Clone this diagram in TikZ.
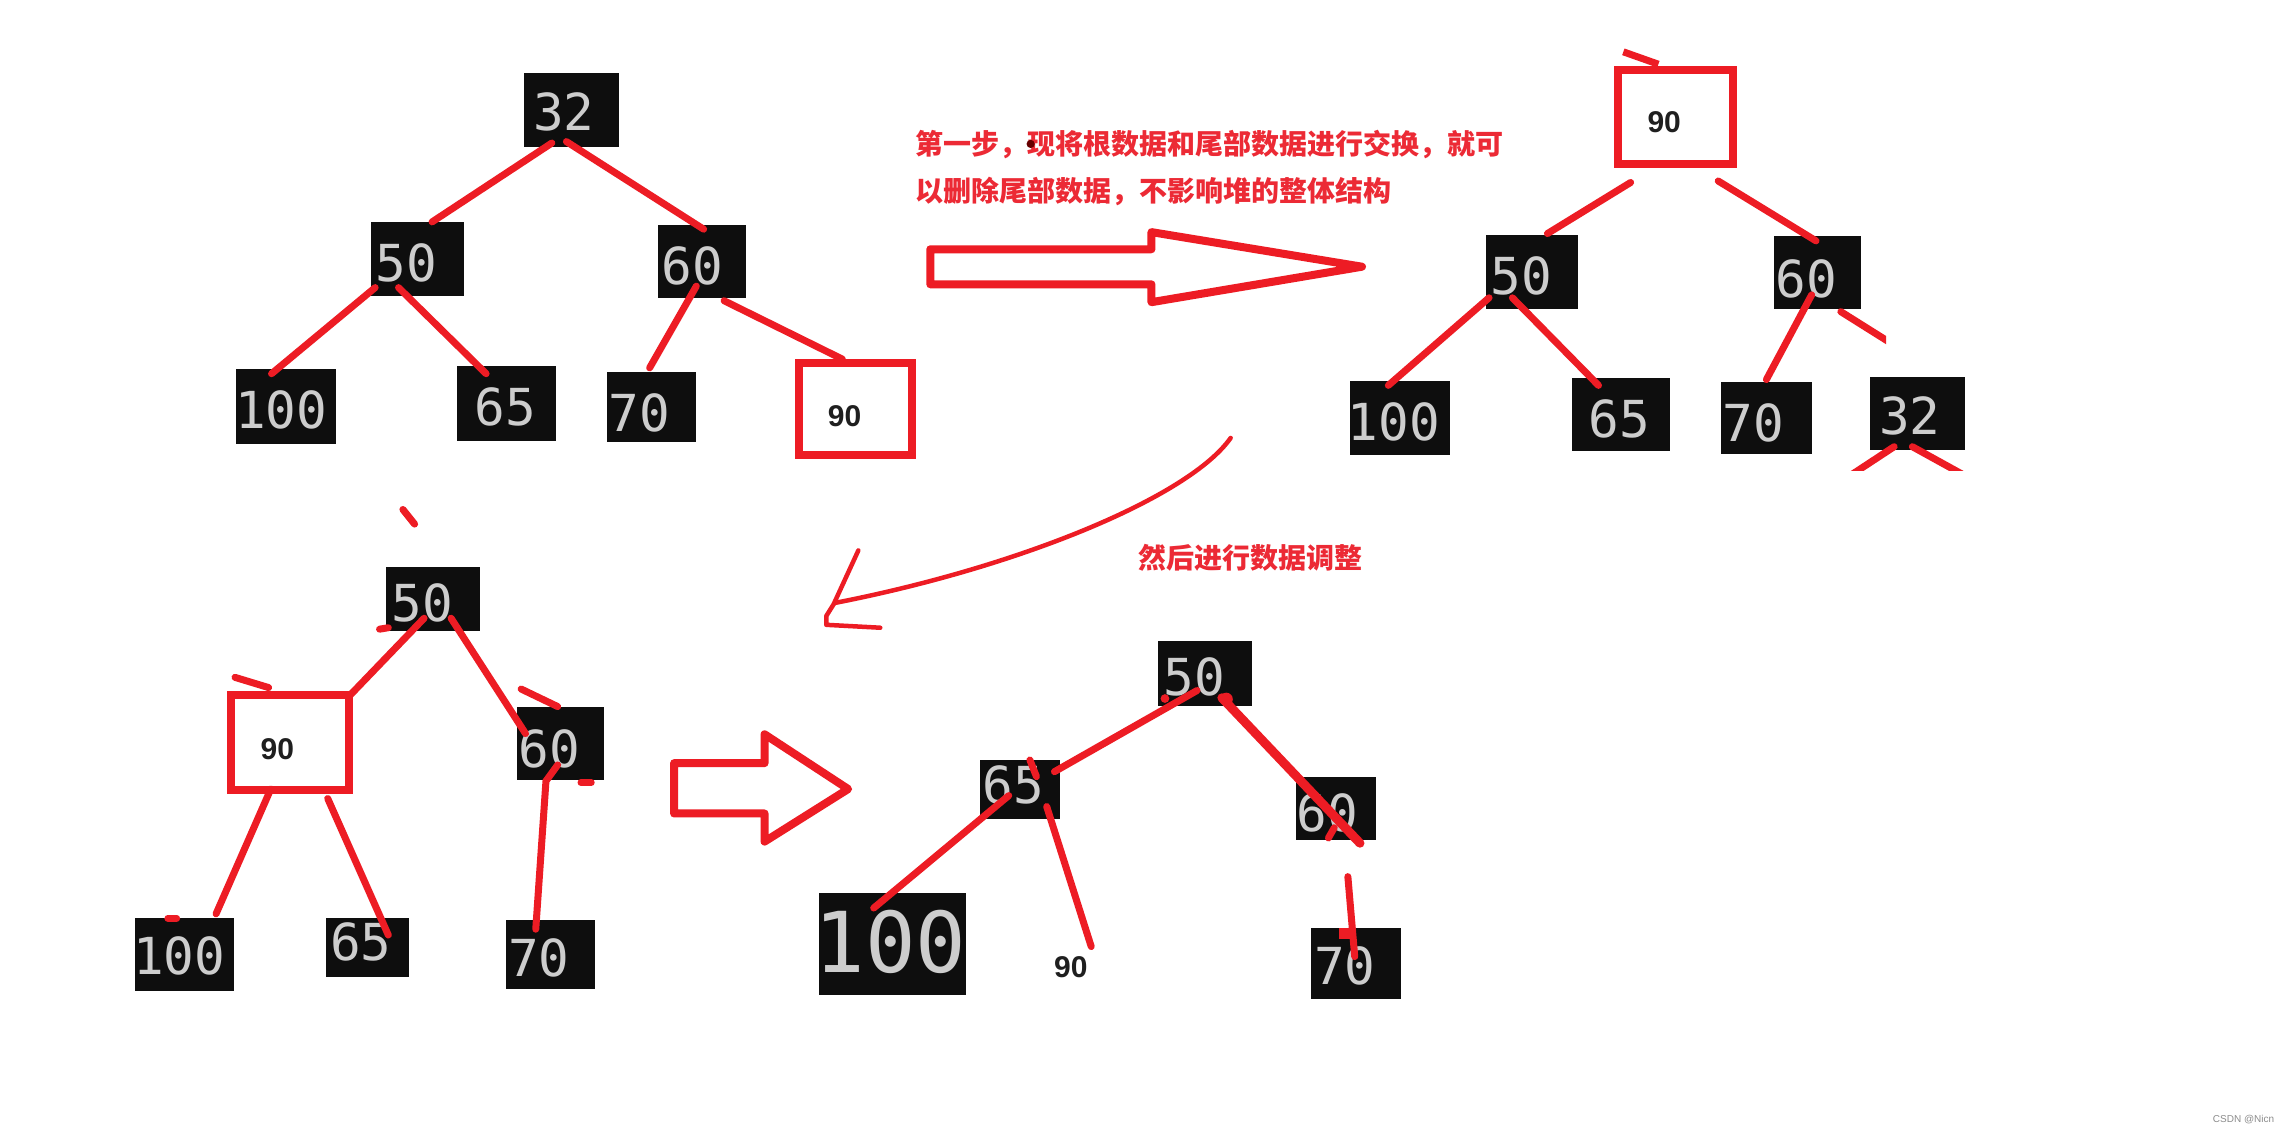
\documentclass[tikz,border=0pt]{standalone}
\usepackage{fontspec}
\newfontfamily\monof{DejaVu Sans Mono}
\newfontfamily\cjkf{Noto Sans CJK SC}
\newfontfamily\lblf{Liberation Sans}
\newfontfamily\wmf{Liberation Sans}
\definecolor{pred}{HTML}{ED1C24}
\definecolor{tred}{HTML}{EC2A35}
\definecolor{boxbk}{HTML}{0E0E0E}
\definecolor{dig}{HTML}{CDCDCD}
\tikzset{
  blk/.style={fill=boxbk, draw=none, inner sep=0pt},
  num/.style={font=\monof\fontsize{51}{51}\selectfont, text=dig, inner sep=0pt, anchor=west},
  bignum/.style={font=\monof\fontsize{84}{84}\selectfont, text=dig, inner sep=0pt, anchor=west},
  rbox/.style={draw=pred, line width=8pt, fill=white, inner sep=0pt},
  lab/.style={font=\lblf\bfseries\fontsize{30}{30}\selectfont, text=black!88, inner sep=0pt},
  edge/.style={draw=pred, line width=7pt, line cap=round},
  thickedge/.style={draw=pred, line width=9pt, line cap=round},
  stub/.style={draw=pred, line width=7pt, line cap=butt},
  thinline/.style={draw=pred, line width=4.5pt, line cap=round, line join=round},
  hollow/.style={draw=pred, line width=8pt, line join=round, fill=white},
  note/.style={font=\cjkf\bfseries\fontsize{28}{28}\selectfont, text=tred, inner sep=0pt, anchor=base west},
}
\newcommand\bbox[5]{\node[blk, minimum width={#4*1.4598pt}, minimum height={#5*1.4598pt}] (#1) at (#2,#3) {};}
\newcommand\rrbox[5]{\node[rbox, minimum width={#4*1.4598pt}, minimum height={#5*1.4598pt}] (#1) at (#2,#3) {};}
\begin{document}
\begin{tikzpicture}[x=1.4598pt,y=-1.4598pt]
\useasboundingbox[fill=white] (0,0) rectangle (1568,777);

% ---------------- tree 1 ----------------
\bbox{n1a}{391.5}{75.5}{65}{51}
\bbox{n1b}{286}{177.5}{64}{51}
\bbox{n1c}{481}{179}{60}{50}
\bbox{n1d}{196}{278.5}{68}{51}
\bbox{n1e}{347}{276.5}{68}{51}
\bbox{n1f}{446.5}{279}{61}{48}
\rrbox{n1g}{586}{280.5}{78}{63}
\node[num] (n1at) at (365,77) {32};
\node[num] (n1bt) at (257,180) {50};
\node[num] (n1ct) at (453,182) {60};
\node[num] (n1dt) at (161,281) {100};
\node[num] (n1et) at (325,279) {65};
\node[num] (n1ft) at (417,283) {70};
\node[lab] (n1gt) at (578.5,285) {90};
\draw[edge] ([shift={(-13.5,22.5)}]n1a.center) -- ([shift={(10,-25.5)}]n1b.center);
\draw[edge] ([shift={(-3.5,21.5)}]n1a.center) -- ([shift={(1,-22)}]n1c.center);
\draw[edge] ([shift={(-29,19.5)}]n1b.center) -- ([shift={(-10,-22.5)}]n1d.center);
\draw[edge] ([shift={(-13,19.5)}]n1b.center) -- ([shift={(-14,-20.5)}]n1e.center);
\draw[edge] ([shift={(-4,17)}]n1c.center) -- ([shift={(-1.5,-27)}]n1f.center);
\draw[edge] ([shift={(15,27)}]n1c.center) -- ([shift={(-9,-34.5)}]n1g.center);

% ---------------- note 1 and arrow 1 ----------------
\node[note] (t1) at (627,105.7) {第一步，现将根数据和尾部数据进行交换，就可};
\node[note] (t2) at (627,137.7) {以删除尾部数据，不影响堆的整体结构};
\fill[black!60!red] (706,98.6) circle (2.8);
\draw[hollow] (637.25,170.75) -- (788.75,170.75) -- (788.75,159) -- (933,182.7)
  -- (788.75,207) -- (788.75,194.75) -- (637.25,194.75) -- cycle;

% ---------------- tree 2 ----------------
\rrbox{n2a}{1147.5}{80}{79}{64}
\bbox{n2b}{1049.5}{186.5}{63}{51}
\bbox{n2c}{1245}{187}{60}{50}
\bbox{n2d}{959}{286.5}{68}{51}
\bbox{n2e}{1110.5}{284}{67}{50}
\bbox{n2f}{1210}{286.5}{62}{49}
\bbox{n2g}{1313.5}{283}{65}{50}
\node[lab] (n2at) at (1140,84) {90};
\node[num] (n2bt) at (1021,189) {50};
\node[num] (n2ct) at (1216,191) {60};
\node[num] (n2dt) at (923,289) {100};
\node[num] (n2et) at (1088,287) {65};
\node[num] (n2ft) at (1180,290) {70};
\node[num] (n2gt) at (1287,285) {32};
\draw[edge] ([shift={(-30.5,45)}]n2a.center) -- ([shift={(10.5,-26.5)}]n2b.center);
\draw[edge] ([shift={(29.5,44)}]n2a.center) -- ([shift={(-1,-22)}]n2c.center);
\draw[edge] ([shift={(-29.5,17.5)}]n2b.center) -- ([shift={(-8,-22.5)}]n2d.center);
\draw[edge] ([shift={(-13.5,17.5)}]n2b.center) -- ([shift={(-15.5,-20)}]n2e.center);
\draw[edge] ([shift={(-4,15)}]n2c.center) -- ([shift={(0,-26.5)}]n2f.center);
\coordinate (s2a) at (1112,35.5);
\draw[stub] ([shift={(-11.5,-36)}]n2a.center) -- (s2a);
\begin{scope}
  \clip (1240,200) rectangle (1292,240);
  \coordinate (s2b) at (1300,238);
  \draw[edge] ([shift={(16,26.5)}]n2c.center) -- (s2b);
\end{scope}
\begin{scope}
  \clip (1250,290) rectangle (1360,322);
  \coordinate (s2c) at (1261,330);
  \coordinate (s2d) at (1353.5,330);
  \draw[edge] ([shift={(-16,23)}]n2g.center) -- (s2c);
  \draw[edge] ([shift={(-3.5,23)}]n2g.center) -- (s2d);
\end{scope}

% ---------------- curved arrow and note 2 ----------------
\coordinate (ca0) at (843,300);
\coordinate (ca1) at (572,413);
\draw[thinline] (ca0) .. controls (815,340) and (700,388) .. (ca1);
\coordinate (ah0) at (588,377);
\coordinate (ah1) at (566,428);
\coordinate (ah2) at (603,430);
\draw[thinline] (ah0) -- (571,414) -- (566,422) -- (ah1) -- (ah2);
\node[note] (t3) at (780,389.3) {然后进行数据调整};

% ---------------- tree 3 ----------------
\bbox{n3a}{296.5}{410.5}{64}{44}
\rrbox{n3b}{198.5}{508.5}{81}{65}
\bbox{n3c}{384}{509}{60}{50}
\bbox{n3d}{126.5}{654}{68}{50}
\bbox{n3e}{251.5}{649}{57}{40}
\bbox{n3f}{377}{654}{61}{47}
\node[num] (n3at) at (268,413) {50};
\node[lab] (n3bt) at (190,513) {90};
\node[num] (n3ct) at (355,513) {60};
\node[num] (n3dt) at (91,655) {100};
\node[num] (n3et) at (226,645) {65};
\node[num] (n3ft) at (348,656) {70};
\draw[edge] ([shift={(-6,13)}]n3a.center) -- ([shift={(41.5,-32.5)}]n3b.center);
\draw[edge] ([shift={(12.5,13)}]n3a.center) -- ([shift={(-24,-6.5)}]n3c.center);
\draw[edge] ([shift={(-13,32)}]n3b.center) -- ([shift={(21.5,-28)}]n3d.center);
\draw[edge] ([shift={(26,38.5)}]n3b.center) -- ([shift={(14.5,-8.5)}]n3e.center);
\draw[edge] ([shift={(-2,15)}]n3c.center) -- (374,535) -- ([shift={(-10,-17.5)}]n3f.center);
% stray marks
\draw[edge] (276,349) -- (284,359);
\draw[edge] (161,464) -- (184,471);
\draw[edge] (357,472) -- (382,484);
\draw[edge] (260,431) -- (266,430);
\draw[edge] (398,536) -- (405,536);
\draw[edge] (115,629) -- (121,629);

% ---------------- arrow 2 ----------------
\draw[hollow] (461.75,522.75) -- (523.75,522.75) -- (523.75,503) -- (581,540.5)
  -- (523.75,576.5) -- (523.75,557.25) -- (461.75,557.25) -- cycle;

% ---------------- tree 4 ----------------
\bbox{n4a}{825.3}{461.3}{64.6}{44.6}
\bbox{n4b}{698.5}{541}{55}{40.6}
\bbox{n4c}{915}{553.7}{55}{43}
\bbox{n4d}{611.5}{646.7}{101}{69.7}
\bbox{n4f}{928.7}{660}{61.4}{48.6}
\node[num] (n4at) at (797,464) {50};
\node[num] (n4bt) at (673,538) {65};
\node[num] (n4ct) at (888,557) {60};
\node[bignum] (n4dt) at (558,645) {100};
\node[num] (n4ft) at (900,662) {70};
\node[lab] (n4e) at (733.5,662.7) {90};
\draw[edge] ([shift={(-5.3,11.7)}]n4a.center) -- ([shift={(23.8,-12.4)}]n4b.center);
\draw[thickedge] ([shift={(11.7,16.7)}]n4a.center) -- ([shift={(16.6,23.9)}]n4c.center);
\draw[edge] ([shift={(-7.5,4)}]n4b.center) -- ([shift={(-13,-24.7)}]n4d.center);
\draw[edge] ([shift={(18.5,11.5)}]n4b.center) -- ([shift={(14,-14.3)}]n4e.center);
\coordinate (s4a) at (923.3,600.5);
\draw[edge] (s4a) -- ([shift={(-0.7,-4.7)}]n4f.center);
\fill[pred] (917,635.7) rectangle (925.5,643);
\fill[pred] (798,478.5) circle (3);
\fill[pred] (840,479) circle (4.5);
\draw[edge] (705.5,520.6) -- (710,532);
\draw[edge] (910,574) -- (914,567);

% ---------------- watermark ----------------
\node[font=\wmf\fontsize{10}{10}\selectfont, text=black!45, anchor=east, inner sep=0pt] (wm) at (1558,767) {CSDN @Nicn};
\end{tikzpicture}
\end{document}
